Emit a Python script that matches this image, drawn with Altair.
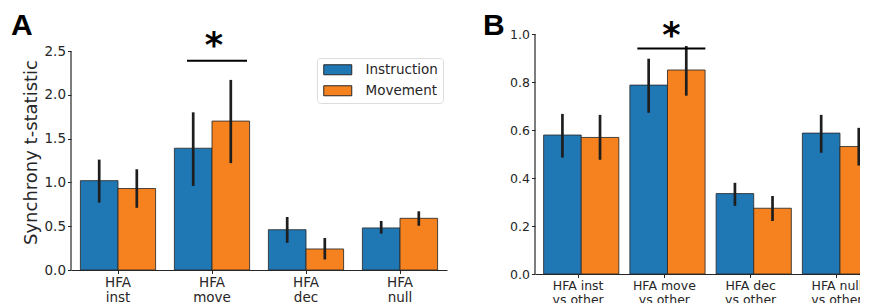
import altair as alt
import pandas as pd

conds = ["Instruction", "Movement"]
colors = ["#1f77b4", "#f5821f"]

cats_A = ["HFA inst", "HFA move", "HFA dec", "HFA null"]
inst_A = [1.02, 1.39, 0.46, 0.48]
inst_A_lo = [0.77, 0.96, 0.31, 0.415]
inst_A_hi = [1.26, 1.80, 0.605, 0.56]
move_A = [0.93, 1.70, 0.24, 0.59]
move_A_lo = [0.71, 1.22, 0.12, 0.505]
move_A_hi = [1.15, 2.17, 0.365, 0.67]
ticks_A = [0.0, 0.5, 1.0, 1.5, 2.0, 2.5]

cats_B = ["HFA inst vs other", "HFA move vs other", "HFA dec vs other", "HFA null vs other"]
inst_B = [0.579, 0.787, 0.335, 0.587]
inst_B_lo = [0.485, 0.672, 0.284, 0.505]
inst_B_hi = [0.667, 0.897, 0.38, 0.663]
move_B = [0.569, 0.850, 0.274, 0.531]
move_B_lo = [0.476, 0.743, 0.221, 0.452]
move_B_hi = [0.663, 0.95, 0.325, 0.609]
ticks_B = [0.0, 0.2, 0.4, 0.6, 0.8, 1.0]

sig_A = {"cat": "HFA move", "y": 2.39, "star": 2.56}
sig_B = {"cat": "HFA move vs other", "y": 0.94, "star": 0.99}

DARK = "#262626"


def make_df(cats, inst, ilo, ihi, move, mlo, mhi):
    rows = []
    for i, c in enumerate(cats):
        rows.append(dict(cat=c, cond=conds[0], val=inst[i], lo=ilo[i], hi=ihi[i]))
        rows.append(dict(cat=c, cond=conds[1], val=move[i], lo=mlo[i], hi=mhi[i]))
    return pd.DataFrame(rows)


def panel(df, cats, ticks, ytop, ydom, width, height, fs, lh, label_expr, ytitle,
          sig, letter, letter_x, legend, line_off, star_dx):
    xscale = alt.Scale(paddingInner=0.2, paddingOuter=0.1)
    xenc = alt.X("cat:N", sort=cats, scale=xscale,
                 axis=alt.Axis(title=None, labelAngle=0, labelExpr=label_expr,
                               labelFontSize=fs, labelLineHeight=lh, labelColor=DARK,
                               labelPadding=2, tickSize=3.5, tickColor=DARK,
                               domainColor=DARK, domainWidth=1.2, labelBaseline="top"))
    xoff = alt.XOffset("cond:N", sort=conds, scale=alt.Scale(paddingInner=0, paddingOuter=0))
    yaxis = alt.Axis(values=ticks, format=".1f", labelFontSize=fs, labelColor=DARK,
                     tickSize=3.5, tickColor=DARK, domain=False,
                     labelPadding=2, grid=False,
                     title=ytitle if ytitle else None, titleFontSize=18,
                     titleFontWeight="normal", titleColor=DARK, titlePadding=4)
    if legend:
        leg = alt.Legend(title=None, orient="none", legendX=246, legendY=24, padding=5,
                         strokeColor="#dddddd", fillColor="white", cornerRadius=3,
                         symbolType="M-2.8,-1H2.8V1H-2.8Z", symbolSize=100,
                         symbolOffset=9,
                         symbolStrokeColor=DARK, symbolStrokeWidth=1,
                         symbolOpacity=1,
                         labelFontSize=13.5, labelColor=DARK, labelOffset=21,
                         rowPadding=6)
    else:
        leg = None
    bars = alt.Chart(df).mark_bar(stroke="#2b2b2b", strokeWidth=1, strokeOpacity=0.85,
                                  opacity=1).encode(
        x=xenc, xOffset=xoff,
        y=alt.Y("val:Q", scale=alt.Scale(domain=[0, ydom], nice=False, zero=True), axis=yaxis),
        color=alt.Color("cond:N", sort=conds, scale=alt.Scale(domain=conds, range=colors),
                        legend=leg),
    )
    errs = alt.Chart(df).mark_rule(color="#1e1e1e", strokeWidth=2.7).encode(
        x=alt.X("cat:N", sort=cats), xOffset=alt.XOffset("cond:N", sort=conds),
        y="lo:Q", y2="hi:Q",
    )
    sdf = pd.DataFrame([sig])
    sig_line = alt.Chart(sdf).mark_rule(color="black", strokeWidth=2,
                                        xOffset=line_off[0], x2Offset=line_off[1]).encode(
        x=alt.X("cat:N", sort=cats), x2=alt.X2("cat"), y="y:Q",
    )
    star = alt.Chart(sdf).mark_text(text="*", fontSize=35, font="DejaVu Sans",
                                    fontWeight="bold",
                                    baseline="middle", align="center", dx=star_dx,
                                    color="black").encode(
        x=alt.X("cat:N", sort=cats), y="star:Q",
    )
    letter_t = alt.Chart(sdf).mark_text(text=letter, fontSize=30, font="Liberation Sans",
                                        fontWeight="bold", align="left", baseline="alphabetic",
                                        color="black").encode(
        x=alt.value(letter_x), y=alt.value(1),
    )
    anchor = alt.Chart(sdf).mark_rule(strokeOpacity=0, opacity=0).encode(y=alt.value(-26))
    ydomain = alt.Chart(sdf).mark_rule(color=DARK, strokeWidth=1.2).encode(
        x=alt.value(0), y=alt.Y(datum=0), y2=alt.Y2(datum=ytop))
    layers = [bars, errs, sig_line, star, letter_t, anchor, ydomain]
    return alt.layer(*layers).properties(width=width, height=height)


df_A = make_df(cats_A, inst_A, inst_A_lo, inst_A_hi, move_A, move_A_lo, move_A_hi)
df_B = make_df(cats_B, inst_B, inst_B_lo, inst_B_hi, move_B, move_B_lo, move_B_hi)

pA = panel(df_A, cats_A, ticks_A, 2.5, 2.5 * 236 / 219, 376, 236, 13.5, 15,
           "split(datum.value, ' ')", "Synchrony t-statistic",
           sig_A, "A", -60, True, (-25, 35), 2)
pB = panel(df_B, cats_B, ticks_B, 1.0, 1.0, 345, 240, 12.5, 13.5,
           "[replace(datum.value, ' vs other', ''), 'vs other']", None,
           sig_B, "B", -52, False, (-27, 41), 7)

chart = alt.hconcat(pA, pB, spacing=36).resolve_scale(color="independent").configure(
    font="DejaVu Sans", padding={"left": 3, "top": 0, "right": -20, "bottom": 0}
).configure_view(stroke=None)

chart.save("out.html", embed_options={"renderer": "svg", "actions": False})
